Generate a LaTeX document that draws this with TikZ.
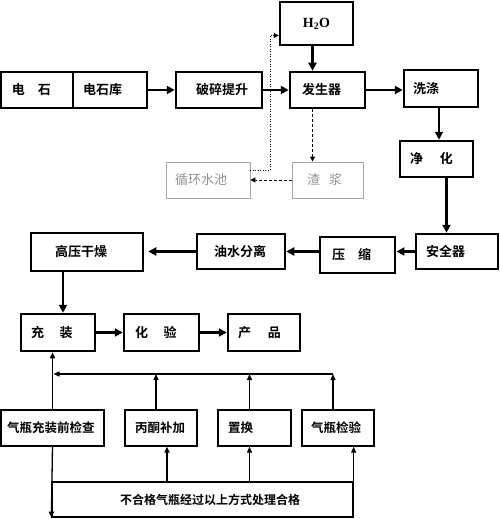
\documentclass[tikz,border=0pt]{standalone}
\usepackage{fontspec}
\setmainfont{Noto Sans CJK SC}[BoldFont={Noto Sans CJK SC Bold}]
\newfontfamily\tnr{Liberation Serif}
\usetikzlibrary{arrows.meta}
\newcommand\bx[8]{%
  \pgfmathsetmacro\bw{#5-#3}\pgfmathsetmacro\bh{#6-#4}\pgfmathsetmacro\tw{#5-#3-2*#7}%
  \node[minimum width=\bw pt, minimum height=\bh pt, text width=\tw pt, inner xsep=#7pt, inner ysep=0pt, align=left, #1] (#2) at ({(#3+#5)/2},{(#4+#6)/2}) {\mbox{#8}};}
\tikzset{
 mbox/.style={draw, line width=2.5pt, font=\fontsize{13}{15}\selectfont\bfseries},
 gbox/.style={draw=gray!70, line width=0.9pt, text=gray!85, font=\fontsize{13}{15}\selectfont},
 tbox/.style={draw, line width=1.3pt, font=\fontsize{12.5}{15}\selectfont\bfseries},
 thk/.style={line width=2.5pt, -{Triangle[length=8pt,width=8pt]}},
 fb/.style={line width=1.3pt},
 fba/.style={fb, -{Triangle[length=6pt,width=5pt]}},
 dsh/.style={line width=1pt, dash pattern=on 3pt off 2pt, -{Triangle[length=5pt,width=5pt]}},
 dtt/.style={line width=1pt, dash pattern=on 1pt off 1.5pt, -{Triangle[length=5pt,width=5pt]}},
}
\begin{document}
\begin{tikzpicture}[x=1pt,y=-1pt]
\useasboundingbox (0,0) rectangle (500,519);
\fill[white] (0,0) rectangle (500,519);
% main boxes
\bx{mbox}{dianshi}{1}{72}{73}{108}{11}{电\hspace{1em}石}
\bx{mbox}{ku}{73}{72}{147}{108}{10}{电石库}
\bx{mbox}{posui}{176}{72}{262}{108}{20}{破碎提升}
\bx{mbox}{fsq}{290}{72}{365}{108}{12}{发生器}
\bx{mbox,align=center}{h2o}{280}{2}{353}{45}{10}{{\tnr\bfseries\fontsize{14}{16}\selectfont H\textsubscript{2}O}}
\bx{mbox}{xidi}{404}{70}{478}{107}{9}{洗涤}
\bx{mbox}{jh}{400}{141}{473}{177}{10}{净\hspace{1.3em}化}
\bx{mbox}{aqq}{416}{234}{498}{269}{10}{安全器}
\bx{mbox,line width=2.9pt}{ys}{320}{237}{395}{273}{12}{压\hspace{1em}缩}
\bx{mbox}{yssf}{197}{234}{285}{269}{17}{油水分离}
\bx{mbox}{gy}{31}{233}{143}{271}{24}{高压干燥}
\bx{mbox}{cz}{21}{314}{95}{351}{10}{充\hspace{1.2em}装}
\bx{mbox}{hy}{124}{314}{199}{351}{11}{化\hspace{1.2em}验}
\bx{mbox}{cp}{228}{314}{300}{351}{10}{产\hspace{1.3em}品}
% gray boxes
\bx{gbox}{xhsc}{166}{162}{250}{198}{9}{循环水池}
\bx{gbox}{zj}{292}{162}{363}{198}{15}{渣\hspace{0.7em}浆}
% bottom row
\bx{tbox}{qpjc}{1}{410}{104}{446}{6}{气瓶充装前检查}
\bx{tbox}{bjbj}{125}{410}{197}{446}{10}{丙酮补加}
\bx{tbox}{zh}{218}{410}{291}{446}{10}{置换}
\bx{tbox}{qjjy}{302}{410}{374}{446}{9}{气瓶检验}
\bx{tbox,font=\fontsize{12}{14}\selectfont\bfseries}{bt}{52}{482}{353}{517}{40}{\hspace*{28pt}不合格气瓶经过以上方式处理合格}
% main flow
\draw[thk] (ku.east) -- (posui.west);
\draw[thk] (posui.east) -- (fsq.west);
\draw[thk] ([xshift=-4pt]h2o.south) -- ([xshift=-4pt]h2o.south |- fsq.north);
\draw[thk] (fsq.east) -- (fsq.east -| xidi.west);
\draw[thk] ([xshift=-2pt]xidi.south) -- ([xshift=-2pt]xidi.south |- jh.north);
\draw[thk] ([xshift=10pt]jh.south) -- ([xshift=10pt]jh.south |- aqq.north);
\draw[thk] (aqq.west) -- (aqq.west -| ys.east);
\draw[thk] (yssf.east -| ys.west) -- (yssf.east);
\draw[thk] (yssf.west) -- ([xshift=4pt]yssf.west -| gy.east);
\draw[thk] ([xshift=5pt]cz.north |- gy.south) -- ([xshift=5pt]cz.north);
\draw[thk] (cz.east) -- (hy.west);
\draw[thk] (hy.east) -- (cp.west);
% water loop
\coordinate (dx) at (270,0);
\coordinate (hin) at ([yshift=-12pt]h2o.west);
\draw[dtt] ([yshift=10pt]xhsc.east) -| (hin -| dx) -- (hin);
\draw[dsh] ([xshift=-15pt]fsq.south) -- ([xshift=-15pt]fsq.south |- zj.north);
\draw[dsh] (zj.west) -- (xhsc.east);
% feedback
\coordinate (ht) at (0,374);
\draw[fba] (qpjc.north) -- (qpjc.north |- cz.south);
\draw[fba] ([xshift=-5pt]bjbj.north) -- ([xshift=-5pt]bjbj.north |- ht);
\draw[fba] ([xshift=-5pt]zh.north) -- ([xshift=-5pt]zh.north |- ht);
\draw[fba] ([xshift=-5pt]qjjy.north) -- ([xshift=-5pt]qjjy.north |- ht);
\draw[fba] ([xshift=-5pt]qjjy.north |- ht) -- ([xshift=1pt]qpjc.north |- ht);
\draw[fba] (qpjc.south) -- (bt.south west);
\draw[fba] ([xshift=6pt]bjbj.south |- bt.north) -- ([xshift=6pt]bjbj.south);
\draw[fba] ([xshift=-5pt]zh.south |- bt.north) -- ([xshift=-5pt]zh.south);
\draw[fba] (bt.north east) -- (bt.north east |- qjjy.south);
\end{tikzpicture}
\end{document}
